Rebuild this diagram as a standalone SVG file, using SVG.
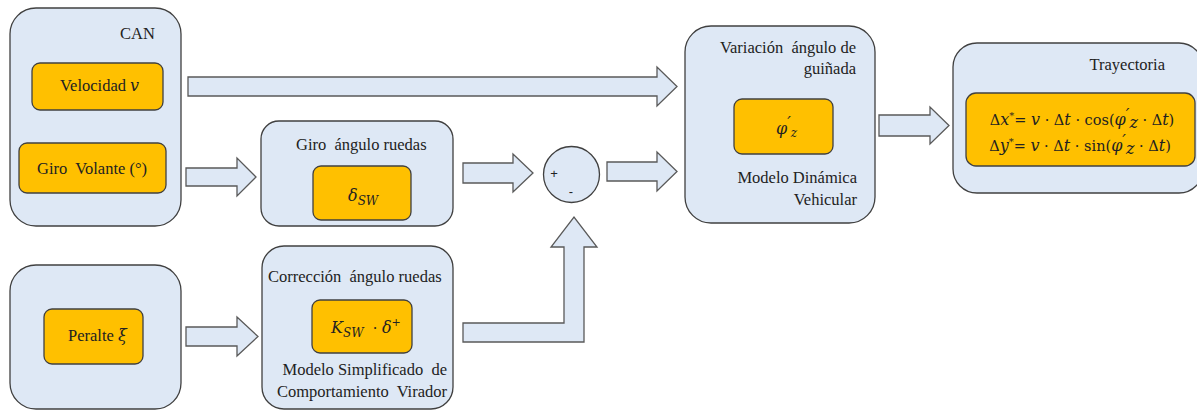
<svg xmlns="http://www.w3.org/2000/svg" width="1197" height="410" viewBox="0 0 1197 410">
<style>
.box{fill:#dee8f5;stroke:#404040;stroke-width:1.3}
.val{fill:#ffc000;stroke:#404040;stroke-width:1.3}
.arr{fill:#dee8f5;stroke:#595959;stroke-width:1.3;stroke-linejoin:miter}
.t{font-family:"Liberation Serif","Times New Roman",serif;font-size:16.5px;fill:#222;white-space:pre}
.m{font-family:"DejaVu Serif","Liberation Serif",serif;font-style:italic;font-size:16px;fill:#222}
.mu{font-family:"DejaVu Serif","Liberation Serif",serif;font-style:normal;font-size:14.5px;fill:#222}
.pr{font-family:"DejaVu Serif",serif;font-style:normal}
.s{font-family:"Liberation Sans",Arial,sans-serif;font-size:13px;fill:#222}
</style>
<rect width="1197" height="410" fill="#ffffff"/>
<g id="connectors">
<polygon class="arr" points="188,77 657,77 657,67 677,86.5 657,106 657,96 188,96"/>
<polygon class="arr" points="186,168 237,168 237,158 256,177 237,196 237,186 186,186"/>
<polygon class="arr" points="186,327 237,327 237,317 258,336.5 237,356 237,346 186,346"/>
<polygon class="arr" points="463,163 513,163 513,154 533,173 513,192 513,183 463,183"/>
<polygon class="arr" points="607,162 657,162 657,152 677,171.5 657,191 657,181 607,181"/>
<polygon class="arr" points="463,323 564,323 564,247 551,247 574,217 597,247 584,247 584,342 463,342"/>
<polygon class="arr" points="879,115 930,115 930,107 949,125.5 930,144 930,136 879,136"/>
</g>
<g id="can">
<rect class="box" x="10" y="8" width="171" height="218" rx="26"/>
<text class="t" x="120" y="39">CAN</text>
</g>
<g id="velocidad">
<rect class="val" x="32" y="63" width="131" height="47" rx="8"/>
<text class="t" x="60" y="91">Velocidad <tspan class="m">v</tspan></text>
</g>
<g id="giro-volante">
<rect class="val" x="19" y="143" width="147" height="50" rx="8"/>
<text class="t" x="37" y="174" xml:space="preserve">Giro  Volante (°)</text>
</g>
<g id="peralte-box">
<rect class="box" x="10" y="265" width="171" height="144" rx="26"/>
</g>
<g id="peralte">
<rect class="val" x="44" y="309" width="99" height="55" rx="8"/>
<text class="t" x="68" y="341">Peralte <tspan class="m">ξ</tspan></text>
</g>
<g id="giro-angulo">
<rect class="box" x="261" y="121" width="192" height="105" rx="18"/>
<text class="t" x="296" y="150" xml:space="preserve">Giro  ángulo ruedas</text>
<rect class="val" x="313" y="166" width="98" height="54" rx="8"/>
<text class="m" x="348" y="201" font-size="18">δ<tspan font-size="12" dy="4">SW</tspan></text>
</g>
<g id="correccion">
<rect class="box" x="262" y="246" width="191" height="163" rx="22"/>
<text class="t" x="268" y="282" xml:space="preserve">Corrección  ángulo ruedas</text>
<rect class="val" x="312" y="300" width="100" height="53" rx="8"/>
<text class="m" x="331" y="333" font-size="17">K<tspan font-size="12" dy="4">SW</tspan><tspan class="mu" dy="-4" xml:space="preserve">  · </tspan>δ<tspan class="pr" font-size="11" dy="-7">+</tspan></text>
<text class="t" x="447" y="375" text-anchor="end" xml:space="preserve">Modelo Simplificado  de</text>
<text class="t" x="447" y="397" text-anchor="end" xml:space="preserve">Comportamiento  Virador</text>
</g>
<g id="sumador">
<circle class="box" cx="571.5" cy="174.5" r="28"/>
<text class="s" x="554" y="178" text-anchor="middle">+</text>
<text class="s" x="571" y="196" text-anchor="middle">-</text>
</g>
<g id="variacion">
<rect class="box" x="685" y="26" width="190" height="197" rx="26"/>
<text class="t" x="856" y="53" text-anchor="end" xml:space="preserve">Variación  ángulo de</text>
<text class="t" x="856" y="74" text-anchor="end">guiñada</text>
<rect class="val" x="734" y="99" width="99" height="55" rx="8"/>
<text class="m" x="776" y="134" font-size="18">φ<tspan class="m" font-size="13" dy="-6">′</tspan><tspan font-size="12" dy="9">z</tspan></text>
<text class="t" x="857" y="183" text-anchor="end">Modelo Dinámica</text>
<text class="t" x="857" y="205" text-anchor="end">Vehicular</text>
</g>
<g id="trayectoria">
<rect class="box" x="953" y="43" width="250" height="150" rx="24"/>
<text class="t" x="1165" y="70" text-anchor="end">Trayectoria</text>
<rect class="val" x="966" y="93" width="229" height="73" rx="10"/>
<text class="mu" x="1082" y="125" text-anchor="middle">Δ<tspan class="m" font-size="15">x</tspan><tspan font-size="10" dy="-6">*</tspan><tspan dy="6">= </tspan><tspan class="m" font-size="15">v</tspan> · Δ<tspan class="m" font-size="15">t</tspan> · cos(<tspan class="m" font-size="15">φ</tspan><tspan class="m" font-size="11" dy="-5">′</tspan><tspan class="m" font-size="10" dy="8">z</tspan><tspan dy="-3"> · Δ</tspan><tspan class="m" font-size="15">t</tspan>)</text>
<text class="mu" x="1080" y="151" text-anchor="middle">Δ<tspan class="m" font-size="15">y</tspan><tspan font-size="10" dy="-6">*</tspan><tspan dy="6">= </tspan><tspan class="m" font-size="15">v</tspan> · Δ<tspan class="m" font-size="15">t</tspan> · sin(<tspan class="m" font-size="15">φ</tspan><tspan class="m" font-size="11" dy="-5">′</tspan><tspan class="m" font-size="10" dy="8">z</tspan><tspan dy="-3"> · Δ</tspan><tspan class="m" font-size="15">t</tspan>)</text>
</g>
</svg>
